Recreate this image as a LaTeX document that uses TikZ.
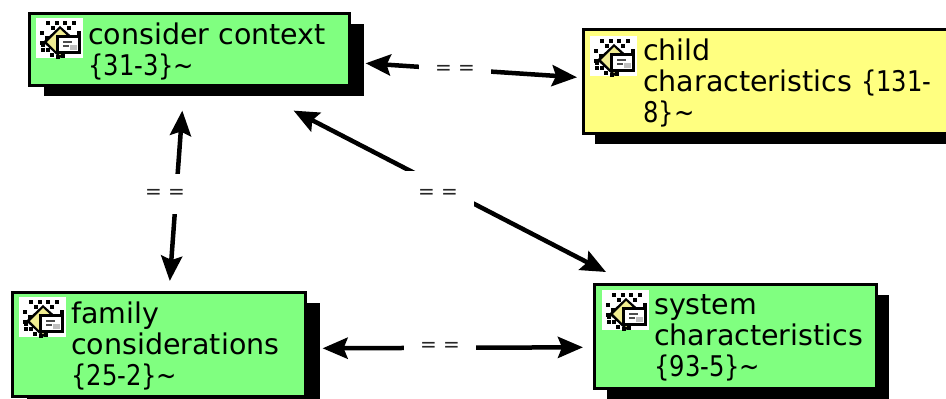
\documentclass[tikz,border=0pt]{standalone}
\usepackage{fontspec}
\setmainfont{DejaVu Sans}
\usetikzlibrary{arrows.meta,shadows,positioning}
\definecolor{mgreen}{HTML}{80FF80}
\definecolor{myellow}{HTML}{FFFF80}
\definecolor{mgold}{HTML}{F0EC90}
\newcommand{\eqtxt}{\raisebox{-3pt}{= =}}
\newcommand{\idtxt}[1]{\scalebox{0.85}[1]{#1}}
\tikzset{
    box/.style={rectangle, draw=black, line width=2.6pt, anchor=north west, inner sep=0pt},
    gbox/.style={box, fill=mgreen, general shadow={fill=black, shadow xshift=#1, shadow yshift=-11pt}, general shadow={fill=mgreen, shadow xshift=2pt, shadow yshift=-2pt}},
    ybox/.style={box, fill=myellow, general shadow={fill=black, shadow xshift=#1, shadow yshift=-11pt}, general shadow={fill=myellow, shadow xshift=2pt, shadow yshift=-2pt}},
    txt/.style={anchor=west, align=left, inner sep=0pt, yshift=-2pt, font=\fontsize{28.5}{31}\selectfont},
    eq/.style={fill=white, inner sep=0pt, minimum width=72pt, minimum height=40pt, text=black!85, font=\fontsize{20}{24}\selectfont},
    l1/.style={line width=4.5pt, {Stealth[length=25pt,width=21pt,inset=4pt]}-{Stealth[length=25pt,width=21pt,inset=4pt]}},
    memo/.pic={
        \fill[white] (0,0) rectangle (47,40);
        \foreach \x/\y in {10/3,15/8,19/3,27/3,31/8,36/3,4/13,9/18,4/23,10/30,5/30,14/35,41/13,37/18,20/37,5/25}
            \fill[black] (\x,\y) rectangle ++(4,4);
        \fill[black] (24,8) -- (42,24) -- (24,40) -- (7,24) -- cycle;
        \fill[mgold] (24,11) -- (38,24) -- (24,37) -- (11,24) -- cycle;
        \fill[black] (20,17) rectangle (45,36);
        \fill[black] (25,36) rectangle (29,40);
        \fill[white] (23,20) rectangle (42,33);
        \fill[black!70] (27,23) rectangle (36,25);
        \fill[black!70] (27,27) rectangle (33,29);
        \fill[black!25] (34,27) rectangle (41,32);
    }
}
\begin{document}
\begin{tikzpicture}[x=1pt, y=-1pt]
    \useasboundingbox (0,0) rectangle (946,399);

    % boxes
    \node[gbox=15pt, minimum width=320pt, minimum height=72pt] at (28,12) (consider) {};
    \node[ybox=12pt, minimum width=377pt, minimum height=104pt] at (582,28) (child) {};
    \node[gbox=15pt, minimum width=293pt, minimum height=104pt] at (11,291) (family) {};
    \node[gbox=13pt, minimum width=282pt, minimum height=104pt] at (593,283) (system) {};

    \path pic at (36,18) {memo};
    \path pic at (590,36) {memo};
    \path pic at (19,297) {memo};
    \path pic at (602,290) {memo};

    \node[txt] at ([xshift=60pt]consider.west) (considertxt) {consider context\\\idtxt{\{31-3\}\textasciitilde}};
    \node[txt] at ([xshift=61pt]child.west) (childtxt) {child\\characteristics \idtxt{\{131-}\\\idtxt{8\}\textasciitilde}};
    \node[txt] at ([xshift=60pt]family.west) (familytxt) {family\\considerations\\\idtxt{\{25-2\}\textasciitilde}};
    \node[txt] at ([xshift=61pt]system.west) (systemtxt) {system\\characteristics\\\idtxt{\{93-5\}\textasciitilde}};

    \draw[l1] ([shift={(15,14)}]consider.east) -- ([shift={(-5,-4)}]child.west);
    \draw[l1] ([shift={(-7,24)}]consider.south) -- ([shift={(11,-10)}]family.north);
    \draw[l1] ([shift={(-57,24)}]consider.south east) -- ([shift={(13,-11)}]system.north west);
    \draw[l1] ([shift={(16,4)}]family.east) -- ([shift={(-10,11)}]system.west);

    \node[eq] at (455,70) (eqa) {\eqtxt};
    \node[eq] at (165,194) (eqb) {\eqtxt};
    \node[eq, minimum height=46pt] at (438,194) (eqc) {\eqtxt};
    \node[eq] at (440,347) (eqd) {\eqtxt};
\end{tikzpicture}
\end{document}
